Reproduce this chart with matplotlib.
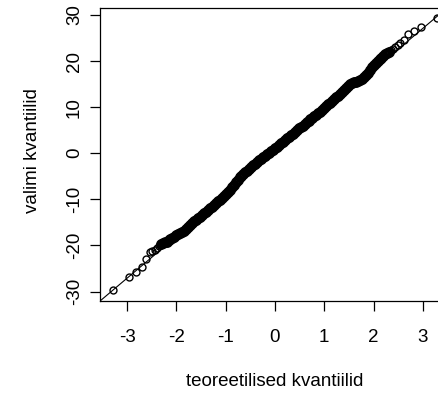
import matplotlib
matplotlib.use("Agg")
import matplotlib.pyplot as plt

plt.rcParams["font.family"] = ["Liberation Sans", "DejaVu Sans"]
plt.rcParams["axes.unicode_minus"] = False

# lower tail, single circles
low_theor = [-3.29, -2.97, -2.81, -2.70, -2.62, -2.54, -2.49, -2.44, -2.40, -2.36]
low_sample = [-29.7, -26.8, -25.7, -24.6, -23.0, -21.5, -21.2, -20.9, -20.5, -20.1]

# dense middle band
band_theor = [
    -2.32, -2.28, -2.24, -2.20, -2.16, -2.12, -2.08, -2.04, -2.00, -1.96,
    -1.92, -1.88, -1.84, -1.80, -1.76, -1.72, -1.68, -1.64, -1.60, -1.56,
    -1.52, -1.48, -1.44, -1.40, -1.36, -1.32, -1.28, -1.24, -1.20, -1.16,
    -1.12, -1.08, -1.04, -1.00, -0.96, -0.92, -0.88, -0.84, -0.80, -0.76,
    -0.72, -0.68, -0.64, -0.60, -0.56, -0.52, -0.48, -0.44, -0.40, -0.36,
    -0.32, -0.28, -0.24, -0.20, -0.16, -0.12, -0.08, -0.04, 0.00, 0.04,
    0.08, 0.12, 0.16, 0.20, 0.24, 0.28, 0.32, 0.36, 0.40, 0.44,
    0.48, 0.52, 0.56, 0.60, 0.64, 0.68, 0.72, 0.76, 0.80, 0.84,
    0.88, 0.92, 0.96, 1.00, 1.04, 1.08, 1.12, 1.16, 1.20, 1.24,
    1.28, 1.32, 1.36, 1.40, 1.44, 1.48, 1.52, 1.56, 1.60, 1.64,
    1.68, 1.72, 1.76, 1.80, 1.84, 1.88, 1.92, 1.96, 2.00, 2.04,
    2.08, 2.12, 2.16, 2.20, 2.24, 2.28, 2.32,
]
band_sample = [
    -19.7, -19.5, -19.35, -19.2, -18.9, -18.65, -18.35, -18.1, -17.8, -17.5,
    -17.25, -17.1, -16.8, -16.4, -16.0, -15.6, -15.2, -14.8, -14.5, -14.15,
    -13.8, -13.45, -13.05, -12.7, -12.35, -11.95, -11.6, -11.2, -10.85, -10.45,
    -10.1, -9.7, -9.3, -8.9, -8.45, -7.95, -7.4, -6.85, -6.3, -5.8,
    -5.25, -4.85, -4.5, -4.15, -3.8, -3.4, -3.0, -2.6, -2.25, -1.9,
    -1.55, -1.25, -0.9, -0.55, -0.2, 0.15, 0.45, 0.8, 1.1, 1.45,
    1.8, 2.15, 2.5, 2.85, 3.2, 3.55, 3.9, 4.25, 4.6, 4.95,
    5.4, 5.65, 6.0, 6.35, 6.7, 7.0, 7.35, 7.7, 8.0, 8.35,
    8.65, 9.0, 9.4, 9.8, 10.2, 10.6, 11.0, 11.35, 11.75, 12.1,
    12.5, 12.95, 13.35, 13.8, 14.25, 14.65, 15.1, 15.25, 15.4, 15.55,
    15.7, 15.8, 16.15, 16.55, 16.9, 17.4, 18.0, 18.65, 19.2, 19.6,
    20.0, 20.4, 20.75, 21.1, 21.45, 21.75, 22.0,
]

# upper tail, single circles
up_theor = [2.36, 2.40, 2.44, 2.49, 2.54, 2.62, 2.70, 2.81, 2.97, 3.29]
up_sample = [22.4, 22.7, 23.1, 23.5, 23.9, 24.6, 25.9, 26.6, 27.4, 29.3]

# reference line (qqline)
line_intercept = 0.0
line_slope = 9.03

x_ticks = [-3, -2, -1, 0, 1, 2, 3]
y_ticks = [-30, -20, -10, 0, 10, 20, 30]

fig = plt.figure(figsize=(4.39, 3.93), dpi=100)
ax = fig.add_axes([100 / 439, 92 / 393, 350 / 439, 293 / 393])

ax.axline((0, line_intercept), slope=line_slope, color="black", lw=0.8)
# overlapping circles in the middle merge into a solid band
ax.plot(band_theor, band_sample, "o", mfc="none", mec="black", ms=5.6, mew=2.2)
ax.plot(low_theor + up_theor, low_sample + up_sample, "o", mfc="none",
        mec="black", ms=5.0, mew=1.0)

ax.set_xlim(-3.55, 3.55)
ax.set_ylim(-32.05, 31.5)
ax.set_xticks(x_ticks)
ax.set_yticks(y_ticks)

for s in ax.spines.values():
    s.set_linewidth(0.9)
ax.tick_params(direction="out", length=7.2, width=0.9, labelsize=13.5)
ax.tick_params(axis="x", pad=13)
ax.tick_params(axis="y", pad=5, labelrotation=90)
for lab in ax.get_yticklabels():
    lab.set_va("center")

fig.text(275 / 439, 7 / 393, "teoreetilised kvantiilid", ha="center", va="baseline", fontsize=13.5)
fig.text(37.5 / 439, 242 / 393, "valimi kvantiilid", ha="center", va="baseline",
         rotation=90, rotation_mode="anchor", fontsize=13.5)

fig.savefig("out.png", dpi=100)
